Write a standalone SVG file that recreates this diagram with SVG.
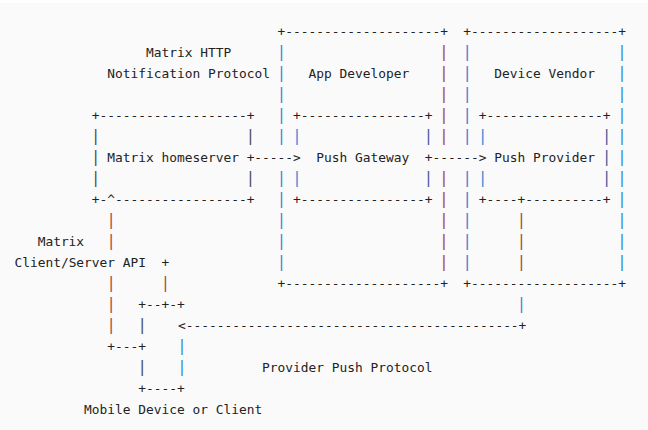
<svg xmlns="http://www.w3.org/2000/svg" width="648" height="430" viewBox="0 0 648 430">
<style>
text { font-family: "DejaVu Sans Mono", "Liberation Mono", monospace; font-size: 12.86px; fill: #222; white-space: pre; }
.p { font-size: 15.5px; text-anchor: middle; }
.b { fill: #3589d6; }
.r { fill: #a84a4a; }
.i { fill: #4a5a9c; }
.d { fill: #4a4f5a; }
</style>
<rect x="0" y="0" width="648" height="430" fill="#ffffff"/>
<rect x="0" y="3" width="648" height="427" fill="#fafafa"/>

<g id="app-developer">
<text x="277.6" y="35.5">+--------------------+</text>
<text x="277.6" y="287.5">+--------------------+</text>
<text class="p b" x="281.47" y="56.5">|</text>
<text class="p b" x="281.47" y="77.5">|</text>
<text class="p b" x="281.47" y="98.5">|</text>
<text class="p b" x="281.47" y="119.5">|</text>
<text class="p b" x="281.47" y="140.5">|</text>
<text class="p b" x="281.47" y="182.5">|</text>
<text class="p b" x="281.47" y="203.5">|</text>
<text class="p b" x="281.47" y="224.5">|</text>
<text class="p b" x="281.47" y="245.5">|</text>
<text class="p b" x="281.47" y="266.5">|</text>
<text class="p r" x="444.01" y="56.5">|</text>
<text class="p r" x="444.01" y="77.5">|</text>
<text class="p r" x="444.01" y="98.5">|</text>
<text class="p r" x="444.01" y="119.5">|</text>
<text class="p r" x="444.01" y="140.5">|</text>
<text class="p r" x="444.01" y="182.5">|</text>
<text class="p r" x="444.01" y="203.5">|</text>
<text class="p r" x="444.01" y="224.5">|</text>
<text class="p r" x="444.01" y="245.5">|</text>
<text class="p r" x="444.01" y="266.5">|</text>
<text x="308.56" y="77.5">App Developer</text>
</g>

<g id="device-vendor">
<text x="463.36" y="35.5">+-------------------+</text>
<text x="463.36" y="287.5">+-------------------+</text>
<text class="p b" x="467.23" y="56.5">|</text>
<text class="p b" x="467.23" y="77.5">|</text>
<text class="p b" x="467.23" y="98.5">|</text>
<text class="p b" x="467.23" y="119.5">|</text>
<text class="p b" x="467.23" y="140.5">|</text>
<text class="p b" x="467.23" y="182.5">|</text>
<text class="p b" x="467.23" y="203.5">|</text>
<text class="p b" x="467.23" y="224.5">|</text>
<text class="p b" x="467.23" y="245.5">|</text>
<text class="p b" x="467.23" y="266.5">|</text>
<text class="p b" x="622.03" y="56.5">|</text>
<text class="p b" x="622.03" y="77.5">|</text>
<text class="p b" x="622.03" y="98.5">|</text>
<text class="p b" x="622.03" y="119.5">|</text>
<text class="p b" x="622.03" y="140.5">|</text>
<text class="p b" x="622.03" y="161.5">|</text>
<text class="p b" x="622.03" y="182.5">|</text>
<text class="p b" x="622.03" y="203.5">|</text>
<text class="p b" x="622.03" y="224.5">|</text>
<text class="p b" x="622.03" y="245.5">|</text>
<text class="p b" x="622.03" y="266.5">|</text>
<text x="494.32" y="77.5">Device Vendor</text>
</g>

<g id="matrix-homeserver">
<text x="91.84" y="119.5">+-------------------+</text>
<text x="91.84" y="203.5">+-</text>
<text x="115.06" y="203.5">-----------------+</text>
<text class="p d" x="95.71" y="140.5">|</text>
<text class="p d" x="95.71" y="161.5">|</text>
<text class="p d" x="95.71" y="182.5">|</text>
<text class="p d" x="250.51" y="140.5">|</text>
<text class="p d" x="250.51" y="182.5">|</text>
<text x="107.32" y="161.5">Matrix homeserver</text>
</g>

<g id="push-gateway">
<text x="293.08" y="119.5">+----------------+</text>
<text x="293.08" y="203.5">+----------------+</text>
<text class="p b" x="296.95" y="140.5">|</text>
<text class="p b" x="296.95" y="182.5">|</text>
<text class="p i" x="428.53" y="140.5">|</text>
<text class="p i" x="428.53" y="182.5">|</text>
<text x="316.3" y="161.5">Push Gateway</text>
</g>

<g id="push-provider">
<text x="478.84" y="119.5">+---------------+</text>
<text x="478.84" y="203.5">+----+----------+</text>
<text class="p b" x="482.71" y="140.5">|</text>
<text class="p b" x="482.71" y="182.5">|</text>
<text class="p i" x="606.55" y="140.5">|</text>
<text class="p i" x="606.55" y="161.5">|</text>
<text class="p i" x="606.55" y="182.5">|</text>
<text x="494.32" y="161.5">Push Provider</text>
</g>

<g id="mobile-device">
<text x="138.28" y="308.5">+--+-+</text>
<text x="138.28" y="392.5">+----+</text>
<text class="p d" x="142.15" y="329.5">|</text>
<text class="p d" x="142.15" y="371.5">|</text>
<text class="p b" x="181.85" y="350.5">|</text>
<text class="p b" x="181.85" y="371.5">|</text>
<text x="84.1" y="413.5">Mobile Device or Client</text>
</g>

<g id="connectors">
<text x="246.64" y="161.5">+-----&gt;</text>
<text x="424.66" y="161.5">+------&gt;</text>
<text x="146.02" y="56.5">Matrix HTTP</text>
<text x="107.32" y="77.5">Notification Protocol</text>
<text x="107.32" y="203.5">^</text>
<text class="p r" x="111.19" y="224.5">|</text>
<text class="p r" x="111.19" y="245.5">|</text>
<text class="p r" x="111.19" y="287.5">|</text>
<text class="p r" x="111.19" y="308.5">|</text>
<text class="p r" x="111.19" y="329.5">|</text>
<text x="107.32" y="350.5">+---+</text>
<text x="37.66" y="245.5">Matrix</text>
<text x="14.44" y="266.5">Client/Server API</text>
<text x="161.5" y="266.5">+</text>
<text class="p r" x="165.37" y="287.5">|</text>
<text class="p r" x="521.41" y="224.5">|</text>
<text class="p r" x="521.41" y="245.5">|</text>
<text class="p r" x="521.41" y="266.5">|</text>
<text class="p b" x="521.41" y="308.5">|</text>
<text x="177.98" y="329.5">&lt;-------------------------------------------+</text>
<text x="262.12" y="371.5">Provider Push Protocol</text>
</g>
</svg>
